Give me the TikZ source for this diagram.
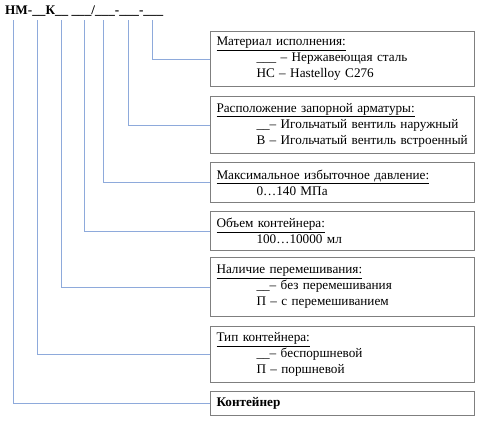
\documentclass[tikz,border=0pt]{standalone}
\usepackage{fontspec}
\setmainfont{Liberation Serif}
\newfontfamily\timesfont{Liberation Serif}
\usetikzlibrary{positioning}

\definecolor{boxgray}{RGB}{127,127,127}
\definecolor{linkblue}{RGB}{142,170,219}

\tikzset{
  field/.style={draw=boxgray, line width=1pt, anchor=north west,
    minimum width=264pt, text width=252pt, inner xsep=6pt, inner ysep=0pt,
    align=left, font=\timesfont\fontsize{13.2}{16}\selectfont},
  link/.style={draw=linkblue, line width=1pt},
}
\newcommand{\ind}{\hspace*{40pt}}

\begin{document}
\begin{tikzpicture}[x=1pt, y=-1pt]
  \useasboundingbox (0,0) rectangle (480,421);
  % designation code
  \node[anchor=west, inner sep=0pt, font=\timesfont\fontsize{13.2}{16}\selectfont\bfseries] (code) at (5,11)
    {НМ-\_\_К\_\_ \_\_\_/\_\_\_-\_\_\_-\_\_\_};
  \coordinate (tCont)  at (13.3,20);
  \coordinate (tType)  at (37,20);
  \coordinate (tMix)   at (61.5,20);
  \coordinate (tVol)   at (84.3,20);
  \coordinate (tPress) at (103.5,20);
  \coordinate (tValve) at (128,20);
  \coordinate (tMat)   at (152,20);

  % fields
  \node[field, minimum height=55pt] (mat) at (210,31)
    {\underline{Материал исполнения:}\\
     \ind\_\_\_ – Нержавеющая сталь\\
     \ind НС – Hastelloy C276};
  \node[field, minimum height=57pt] (valve) at (210,96)
    {\underline{Расположение запорной арматуры:}\\
     \ind\_\_– Игольчатый вентиль наружный\\
     \ind\mbox{В – Игольчатый вентиль встроенный}};
  \node[field, minimum height=40pt] (press) at (210,162)
    {\underline{Максимальное избыточное давление:}\\
     \ind 0…140 МПа};
  \node[field, minimum height=39pt] (vol) at (210,211)
    {\underline{Объем контейнера:}\\
     \ind 100…10000 мл};
  \node[field, minimum height=59pt] (mix) at (210,257)
    {\underline{Наличие перемешивания:}\\
     \ind\_\_– без перемешивания\\
     \ind П – с перемешиванием};
  \node[field, minimum height=56pt] (type) at (210,326)
    {\underline{Тип контейнера:}\\
     \ind\_\_– беспоршневой\\
     \ind П – поршневой};
  \node[field, minimum height=24pt] (cont) at (210,391)
    {\textbf{Контейнер}};

  % leaders
  \draw[link] (tMat) |- (mat.west);
  \draw[link] (tValve) |- (valve.west);
  \draw[link] (tPress) |- (press.west);
  \draw[link] (tVol) |- (vol.west);
  \draw[link] (tMix) |- (mix.west);
  \draw[link] (tType) |- (type.west);
  \draw[link] (tCont) |- (cont.west);
\end{tikzpicture}
\end{document}
